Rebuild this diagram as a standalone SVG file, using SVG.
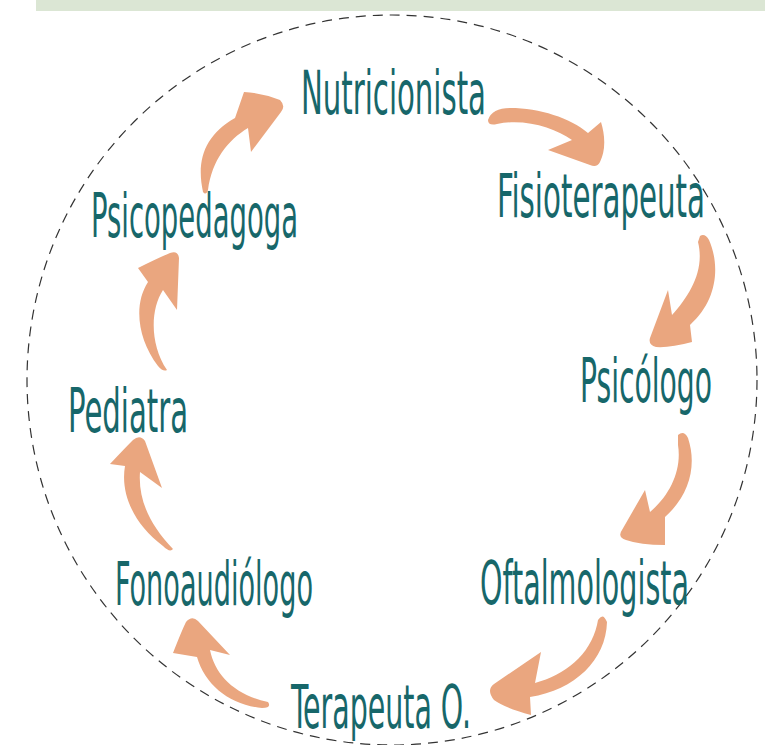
<svg xmlns="http://www.w3.org/2000/svg" width="765" height="745" viewBox="0 0 765 745">
<style>
.lbl{font-family:"DejaVu Sans Condensed","Liberation Sans Narrow","Liberation Sans",sans-serif;font-size:60px;fill:#17676a;}
.arr{fill:#eaa67f;}
</style>
<rect x="0" y="0" width="765" height="745" fill="#ffffff"/>
<rect x="36" y="0" width="729" height="11" fill="#dbe6d4"/>
<circle cx="392" cy="380" r="365" fill="none" stroke="#333" stroke-width="1.2" stroke-dasharray="10 7"/>
<g id="connectors">
<path class="arr" d="M203,192 C196,160 205,135 235,118 L244,92 Q262,93 280,100 Q286,106 281,112 L251,152 L248,128 C228,140 212,160 208,190 Q206,196 203,192 Z"/>
<path class="arr" d="M488,120 Q492,108 510,108 C540,108 570,118 588,133 L601,122 Q608,145 600,162 Q597,168 590,165 L548,150 L572,140 C555,128 525,118 497,124 Q488,126 488,120 Z"/>
<path class="arr" d="M700,236 Q705,233 709,240 C720,265 718,300 690,325 L692,342 Q670,348 656,347 Q648,345 650,338 L668,290 L672,315 C690,295 705,270 698,242 Z"/>
<path class="arr" d="M678,435 Q684,430 688,438 C697,465 690,495 665,517 L665,545 Q640,545 626,540 Q617,537 622,530 L645,490 L650,512 C670,495 682,470 678,445 Z"/>
<path class="arr" d="M598,620 Q603,612 607,622 C606,660 575,690 530,697 L531,715 Q505,708 494,700 Q486,690 494,684 L541,652 L535,683 C565,675 590,655 597,625 Z"/>
<path class="arr" d="M268,702 Q272,708 262,708 C230,705 205,685 197,657 L173,653 Q182,630 186,622 Q192,615 198,621 L230,655 L210,650 C215,675 235,695 268,702 Z"/>
<path class="arr" d="M173,549 Q170,553 163,546 C135,525 120,495 125,466 L110,464 Q125,448 133,440 Q140,434 145,441 L162,488 L140,472 C138,500 150,525 173,549 Z"/>
<path class="arr" d="M167,370 Q163,372 158,366 C138,340 133,305 148,282 L138,268 Q158,258 170,253 Q178,250 179,258 L177,310 L163,290 C150,310 150,345 167,370 Z"/>
</g>
<g id="n-nutricionista"><text class="lbl" x="301" y="114" textLength="185" lengthAdjust="spacingAndGlyphs">Nutricionista</text></g>
<g id="n-fisioterapeuta"><text class="lbl" x="497" y="217" textLength="208" lengthAdjust="spacingAndGlyphs">Fisioterapeuta</text></g>
<g id="n-psicologo"><text class="lbl" x="580" y="402" textLength="132" lengthAdjust="spacingAndGlyphs">Psicólogo</text></g>
<g id="n-oftalmologista"><text class="lbl" x="480" y="604" textLength="209" lengthAdjust="spacingAndGlyphs">Oftalmologista</text></g>
<g id="n-terapeuta"><text class="lbl" x="291" y="728" textLength="180" lengthAdjust="spacingAndGlyphs">Terapeuta O.</text></g>
<g id="n-fonoaudiologo"><text class="lbl" x="115" y="605" textLength="198" lengthAdjust="spacingAndGlyphs">Fonoaudiólogo</text></g>
<g id="n-pediatra"><text class="lbl" x="68" y="432" textLength="120" lengthAdjust="spacingAndGlyphs">Pediatra</text></g>
<g id="n-psicopedagoga"><text class="lbl" x="91" y="237" textLength="207" lengthAdjust="spacingAndGlyphs">Psicopedagoga</text></g>
</svg>
